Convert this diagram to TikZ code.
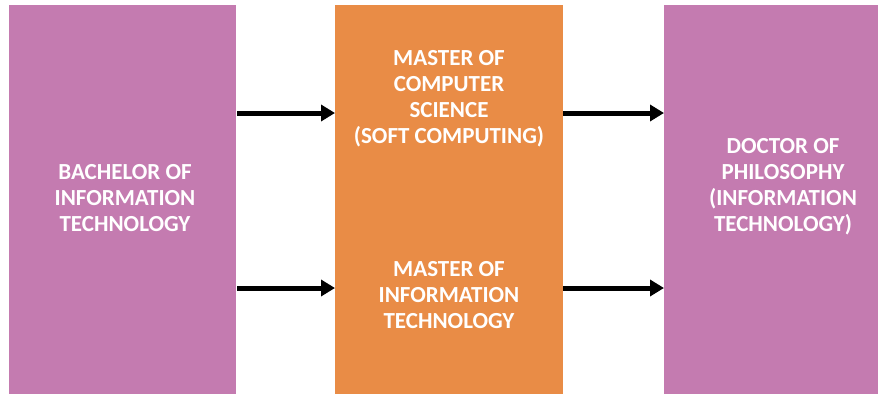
\documentclass[tikz,border=0pt]{standalone}
\usepackage{fontspec}
\setmainfont{Carlito}
\usetikzlibrary{arrows.meta}
\definecolor{purp}{RGB}{196,123,176}
\definecolor{orng}{RGB}{233,140,70}
\tikzset{
  lbl/.style={text=white, font=\fontsize{23}{26}\selectfont\bfseries, align=center},
  arr/.style={line width=5pt, -{Triangle[length=14pt,width=16pt]}}
}
\begin{document}
\begin{tikzpicture}[x=1pt,y=-1pt]
\useasboundingbox (0,0) rectangle (878,394);
\fill[purp] (9,5) rectangle (236,394);
\fill[orng] (335,5) rectangle (563,394);
\fill[purp] (664,5) rectangle (878,394);
\node[lbl] (bach) at (125,198) {BACHELOR OF\\INFORMATION\\TECHNOLOGY};
\node[lbl] (mcs) at (449,99) {MASTER OF\\COMPUTER\\SCIENCE\\(SOFT COMPUTING)};
\node[lbl] (mit) at (449,295) {MASTER OF\\INFORMATION\\TECHNOLOGY};
\node[lbl] (phd) at (783,187) {DOCTOR OF\\PHILOSOPHY\\(INFORMATION\\TECHNOLOGY)};
\coordinate (a1s) at (237,113);
\coordinate (a1e) at (335,113);
\coordinate (a2s) at (563,113);
\coordinate (a2e) at (664,113);
\coordinate (a3s) at (237,288);
\coordinate (a3e) at (335,288);
\coordinate (a4s) at (563,288);
\coordinate (a4e) at (664,288);
\draw[arr] (a1s) -- (a1e);
\draw[arr] (a2s) -- (a2e);
\draw[arr] (a3s) -- (a3e);
\draw[arr] (a4s) -- (a4e);
\end{tikzpicture}
\end{document}
